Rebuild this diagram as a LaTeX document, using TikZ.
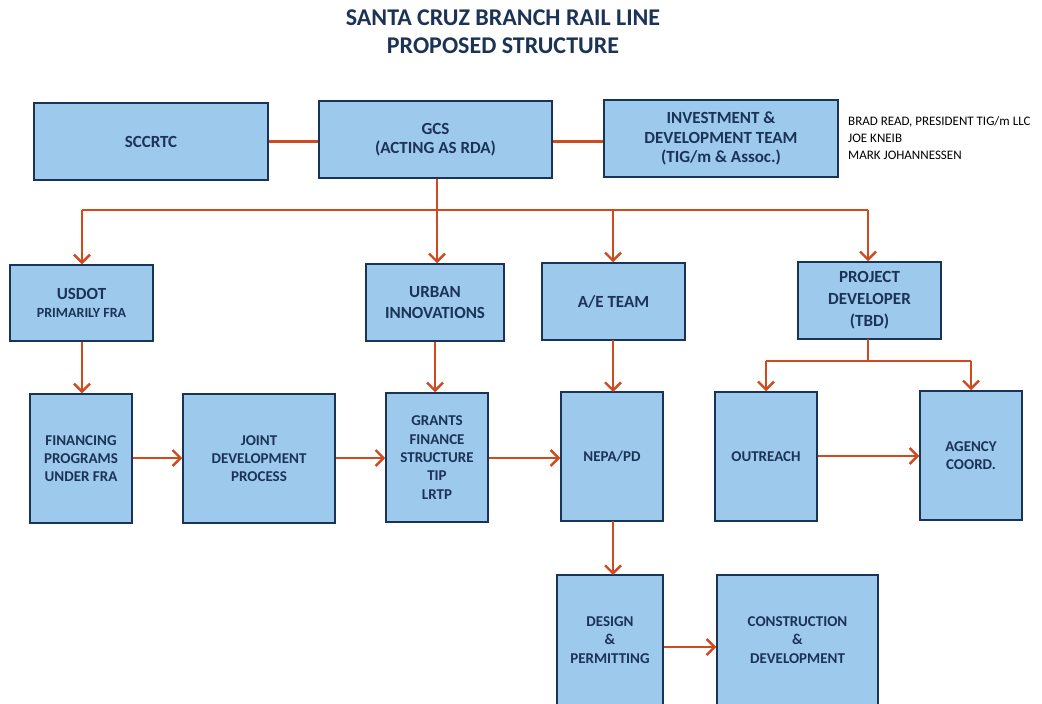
\documentclass[tikz,border=0pt]{standalone}
\usepackage{fontspec}
\setmainfont{Carlito}
\usetikzlibrary{arrows.meta}
\definecolor{boxfill}{HTML}{9DC9EC}
\definecolor{boxline}{HTML}{1A3458}
\definecolor{txt}{HTML}{1C3358}
\definecolor{arr}{HTML}{D04A1E}
\begin{document}
\begin{tikzpicture}[x=1pt,y=-1pt,
  box/.style={draw=boxline, fill=boxfill, line width=1.5pt, align=center, text=txt,
    font=\bfseries\fontsize{17}{19.5}\selectfont, inner sep=0pt},
  tall/.style={box, font=\bfseries\fontsize{15}{18.3}\selectfont, minimum width=102pt, minimum height=129pt},
  conn/.style={draw=arr, line width=2.8pt},
  arw/.style={conn, -{Straight Barb[length=8pt,width=16pt,line width=2.4pt]}},
  side/.style={anchor=west, align=left, font=\fontsize{13}{17}\selectfont, text=black, inner sep=0pt}
]
\useasboundingbox (0,0) rectangle (1042,704);
\clip (0,0) rectangle (1042,704);
\fill[white] (0,0) rectangle (1042,704);

\node[text=txt, font=\bfseries\fontsize{24}{28}\selectfont, align=center] (title) at (503,32)
  {SANTA CRUZ BRANCH RAIL LINE\\PROPOSED STRUCTURE};

\node[box, minimum width=234pt, minimum height=77pt] (sccrtc) at (151,141.5) {SCCRTC};
\node[box, minimum width=233pt, minimum height=77pt] (gcs) at (435.5,139.5) {GCS\\(ACTING AS RDA)};
\node[box, minimum width=234pt, minimum height=77pt] (inv) at (721,138.5) {INVESTMENT \&\\DEVELOPMENT TEAM\\(TIG/m \& Assoc.)};
\node[side] (names) at (848,138) {BRAD READ, PRESIDENT TIG/m LLC\\JOE KNEIB\\MARK JOHANNESSEN};

\node[box, minimum width=143pt, minimum height=76pt] (usdot) at (81.5,303)
  {USDOT\\[-1pt]{\fontsize{14}{16}\selectfont PRIMARILY FRA}};
\node[box, minimum width=138pt, minimum height=77pt, font=\bfseries\fontsize{17}{21}\selectfont] (urban) at (435,302.5) {URBAN\\INNOVATIONS};
\node[box, minimum width=143pt, minimum height=77pt] (ae) at (613.5,301.5) {A/E TEAM};
\node[box, minimum width=143pt, minimum height=77pt, font=\bfseries\fontsize{17}{22}\selectfont] (pd) at (869.5,300.5) {PROJECT\\DEVELOPER\\(TBD)};

\node[tall] (fin) at (81,458.5) {FINANCING\\PROGRAMS\\UNDER FRA};
\node[tall, minimum width=152pt] (joint) at (259,458.5) {JOINT\\DEVELOPMENT\\PROCESS};
\node[tall] (grants) at (437,457.5) {GRANTS\\FINANCE\\STRUCTURE\\TIP\\LRTP};
\node[tall] (nepa) at (612,456.5) {NEPA/PD};
\node[tall] (outreach) at (766,456.5) {OUTREACH};
\node[tall] (agency) at (971,455.5) {AGENCY\\COORD.};

\node[tall, minimum width=106pt, minimum height=130pt] (design) at (610,640) {DESIGN\\\&\\PERMITTING};
\node[tall, minimum width=161pt, minimum height=130pt] (constr) at (797.5,640) {CONSTRUCTION\\\&\\DEVELOPMENT};

% top row links
\draw[conn] (sccrtc.east) -- (sccrtc.east -| gcs.west);
\draw[conn] ([yshift=-2pt]gcs.east) -- ([yshift=-2pt]gcs.east -| inv.west);

% bus
\coordinate (bus) at (437,210);
\draw[conn] (gcs.south -| bus) -- (bus);
\draw[conn] (82,210) -- (868,210);
\draw[arw] (82,210) -- (82,210 |- usdot.north);
\draw[arw] (bus) -- (bus |- urban.north);
\draw[arw] (613,210) -- (613,210 |- ae.north);
\draw[arw] (868,210) -- (868,210 |- pd.north);

% verticals
\draw[arw] ([xshift=0.5pt]usdot.south) -- ([xshift=0.5pt]usdot.south |- fin.north);
\draw[arw] (urban.south) -- (urban.south |- grants.north);
\draw[arw] (613,340) -- (613,392);
\draw[arw] (613,521) -- (613,575);

% project developer split
\coordinate (split) at (868,361);
\draw[conn] (868,339) -- (split);
\draw[conn] (766,361) -- (971,361);
\draw[arw] (766,361) -- (outreach.north);
\draw[arw] (971,361) -- (agency.north);

% horizontal flows
\draw[arw] (fin.east |- 0,458) -- (joint.west |- 0,458);
\draw[arw] (joint.east |- 0,458) -- (grants.west |- 0,458);
\draw[arw] (grants.east |- 0,458) -- (nepa.west |- 0,458);
\draw[arw] (outreach.east |- 0,456) -- (agency.west |- 0,456);
\draw[arw] (design.east |- 0,647) -- (constr.west |- 0,647);
\end{tikzpicture}
\end{document}
